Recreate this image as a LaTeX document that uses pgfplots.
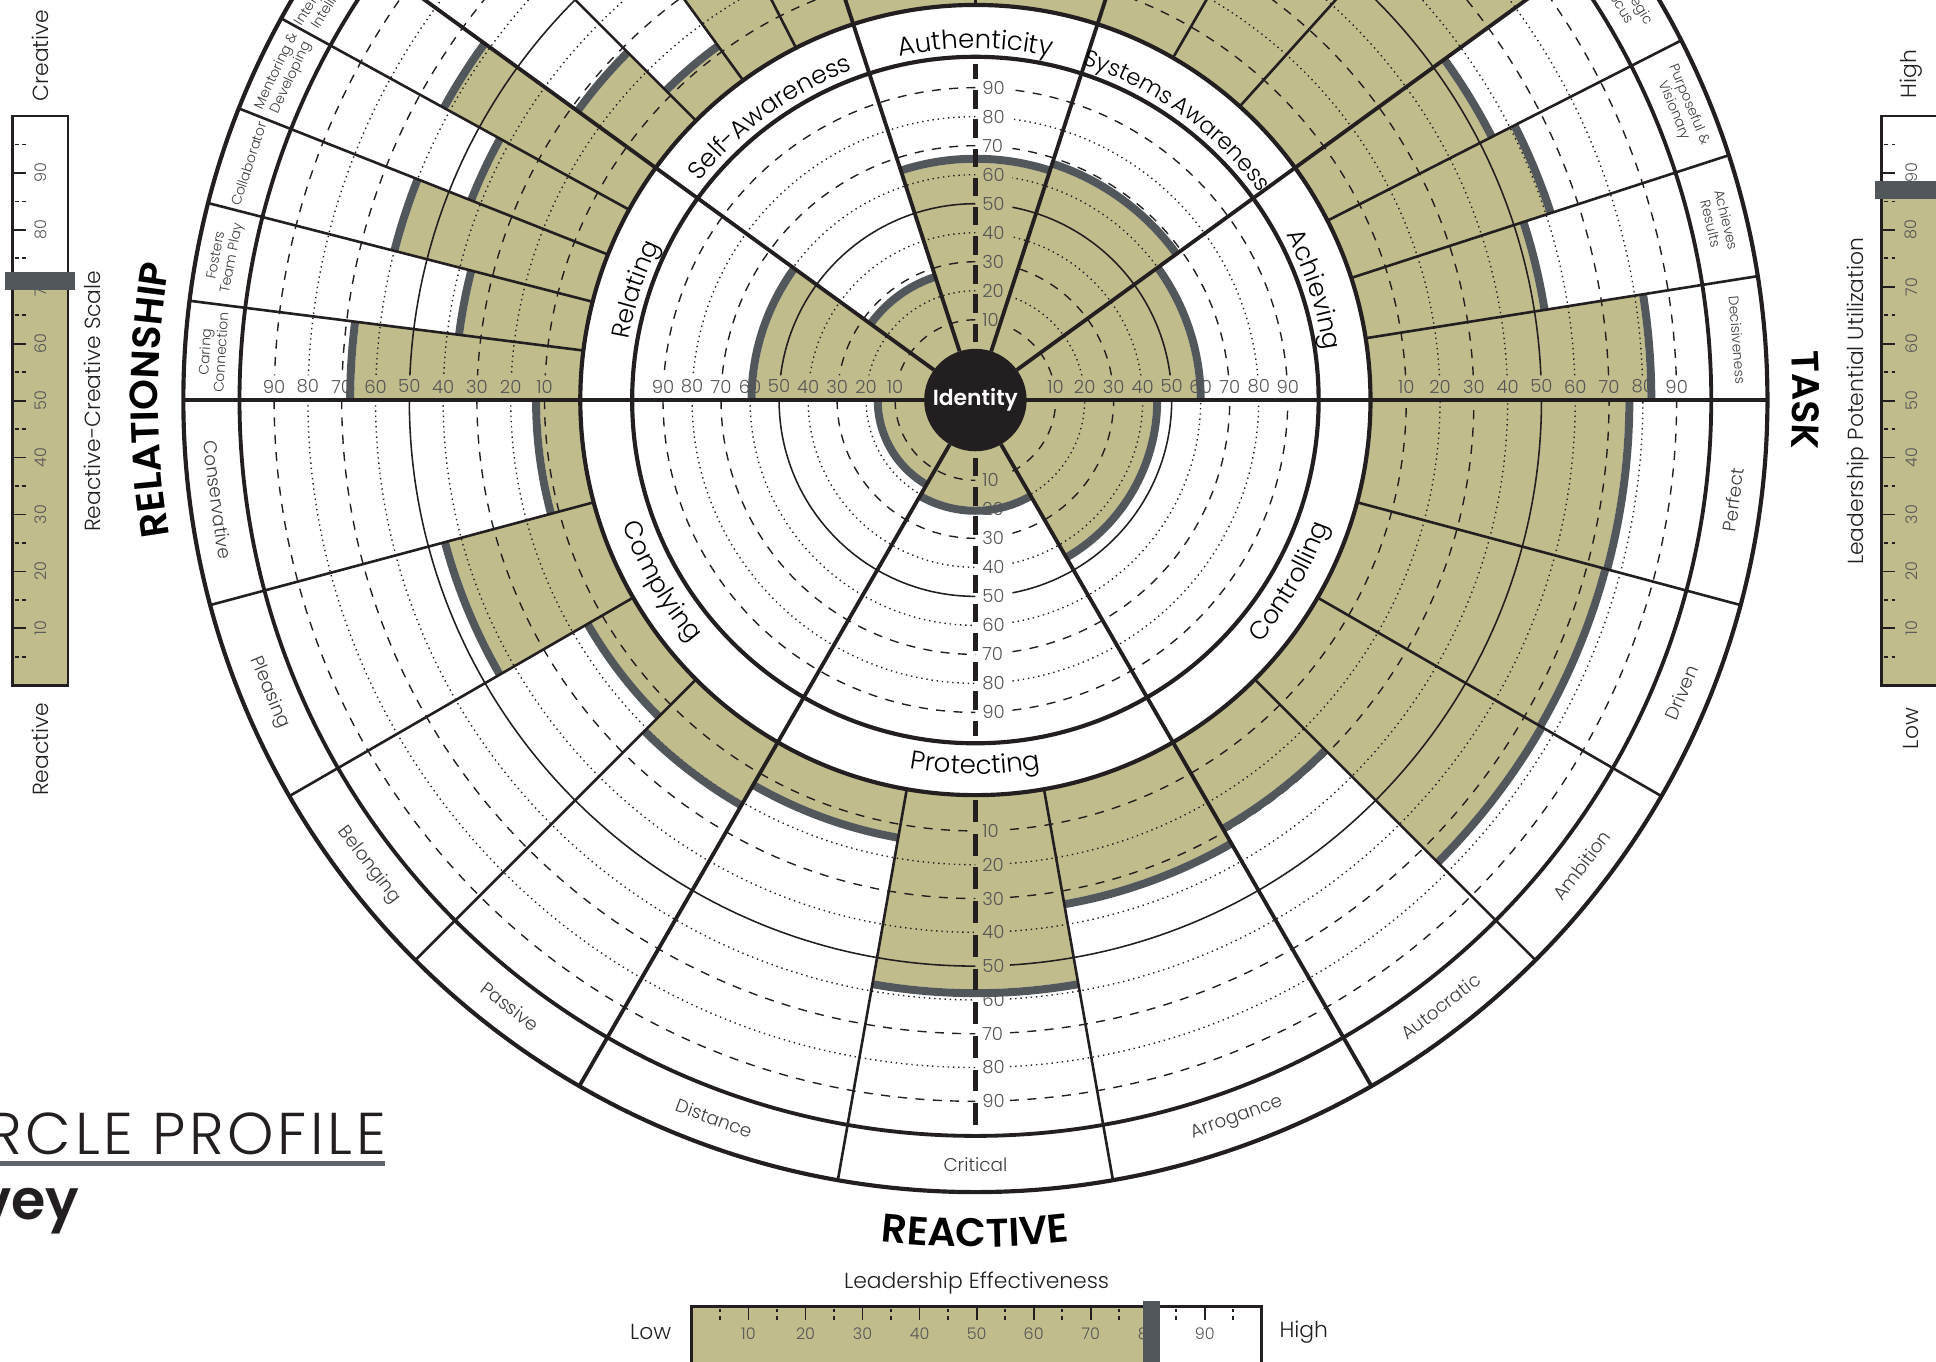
\documentclass[border=0pt]{standalone}
\usepackage{pgfplots}
\pgfplotsset{compat=1.18}
\usepgfplotslibrary{polar}
\usetikzlibrary{decorations.text}
\usepackage{fontspec}
\IfFontExistsTF{Poppins Light}{%
  \IfFontExistsTF{Poppins SemiBold}{%
    \setmainfont{Poppins Light}[BoldFont={Poppins SemiBold}]}{%
    \setmainfont{Poppins Light}[BoldFont={Poppins Bold}]}}{%
  \setmainfont{Poppins}}

\definecolor{olivefill}{RGB}{192,188,140}
\definecolor{grayarc}{RGB}{82,87,91}
\definecolor{lineblk}{RGB}{35,31,32}
\definecolor{txtgray}{RGB}{60,60,60}
\definecolor{numgray}{RGB}{85,85,85}
\definecolor{uline}{RGB}{95,100,106}

% ---- data drawing macros (values 0-100 on the profile scales) ----
\newcommand\osector[3]{%
  \pgfmathsetmacro\Rf{321.6+2.7375*#3-3.2}%
  \pgfmathsetmacro\Rfc{\Rf*0.0125}%
  \pgfmathsetmacro\dRc{(\Rf-320)*0.0125}%
  \pgfmathsetmacro\back{#2+180}%
  \edef\tmp{\noexpand\addplot[fill=olivefill,draw=none,data cs=polar] coordinates {(#1,320) (#1,\Rf)} arc[start angle=#1,end angle=#2,radius=\Rfc cm] -- ++(\back:\dRc cm) arc[start angle=#2,end angle=#1,radius=4cm] -- cycle;}%
  \tmp}
\newcommand\oarc[3]{%
  \pgfmathsetmacro\Rg{321.6+2.7375*#3}%
  \pgfmathsetmacro\Rgc{\Rg*0.0125}%
  \edef\tmp{\noexpand\addplot[draw=grayarc,line width=2.3pt,data cs=polar] coordinates {(#1,\Rg) (#1,\Rg)} arc[start angle=#1,end angle=#2,radius=\Rgc cm];}%
  \tmp}
\newcommand\isector[3]{%
  \pgfmathsetmacro\Rf{41.5+2.35*#3-3.2}%
  \pgfmathsetmacro\Rfc{\Rf*0.0125}%
  \edef\tmp{\noexpand\addplot[fill=olivefill,draw=none,data cs=polar] coordinates {(0,0) (#1,\Rf)} arc[start angle=#1,end angle=#2,radius=\Rfc cm] -- cycle;}%
  \tmp}
\newcommand\iarc[3]{%
  \pgfmathsetmacro\Rg{41.5+2.35*#3}%
  \pgfmathsetmacro\Rgc{\Rg*0.0125}%
  \edef\tmp{\noexpand\addplot[draw=grayarc,line width=2.3pt,data cs=polar] coordinates {(#1,\Rg) (#1,\Rg)} arc[start angle=#1,end angle=#2,radius=\Rgc cm];}%
  \tmp}
\newcommand\vbarfill[3]{%
  \pgfmathsetmacro\yv{-231+4.61*#3}%
  \edef\tmp{\noexpand\addplot[fill=olivefill,draw=none] coordinates {(#1,-231) (#2,-231) (#2,\yv) (#1,\yv)} -- cycle;}\tmp}
\newcommand\vbarmark[3]{%
  \pgfmathsetmacro\ya{-231+4.61*#3-7.5}\pgfmathsetmacro\yb{-231+4.61*#3+7.5}%
  \edef\tmp{\noexpand\addplot[fill=grayarc,draw=none] coordinates {(#1,\ya) (#2,\ya) (#2,\yb) (#1,\yb)} -- cycle;}\tmp}
\newcommand\hbarfill[1]{%
  \pgfmathsetmacro\xv{-230+4.62*#1}%
  \edef\tmp{\noexpand\addplot[fill=olivefill,draw=none] coordinates {(-230,-734) (\xv,-734) (\xv,-820) (-230,-820)} -- cycle;}\tmp}
\newcommand\hbarmark[1]{%
  \pgfmathsetmacro\xa{-230+4.62*#1-7}\pgfmathsetmacro\xb{-230+4.62*#1+7}%
  \edef\tmp{\noexpand\addplot[fill=grayarc,draw=none] coordinates {(\xa,-730) (\xb,-730) (\xb,-820) (\xa,-820)} -- cycle;}\tmp}

% ---- grid macros ----
\newcommand\outercircs[2]{%
  \foreach \kk in {#2}{%
    \pgfmathsetmacro\rr{321.6+27.375*\kk}%
    \pgfmathsetmacro\ga{asin(20/\rr)}%
    \pgfmathsetmacro\ea{180-\ga}%
    \pgfmathsetmacro\gc{-90+asin(28/\rr)}%
    \draw[#1] (\ga:\rr) arc[start angle=\ga,end angle=\ea,radius=\rr];
    \draw[#1] (180:\rr) arc[start angle=180,end angle=270,radius=\rr];
    \draw[#1] (\gc:\rr) arc[start angle=\gc,end angle=0,radius=\rr];
  }}
\newcommand\innercircs[2]{%
  \foreach \kk in {#2}{%
    \pgfmathsetmacro\rr{41.5+23.5*\kk}%
    \pgfmathsetmacro\ga{asin(20/\rr)}%
    \pgfmathsetmacro\gb{90-asin(30/\rr)}%
    \pgfmathsetmacro\ea{180-\ga}%
    \pgfmathsetmacro\gc{-90+asin(30/\rr)}%
    \draw[#1] (\ga:\rr) arc[start angle=\ga,end angle=\gb,radius=\rr];
    \draw[#1] (90:\rr) arc[start angle=90,end angle=\ea,radius=\rr];
    \draw[#1] (180:\rr) arc[start angle=180,end angle=270,radius=\rr];
    \draw[#1] (\gc:\rr) arc[start angle=\gc,end angle=0,radius=\rr];
  }}
% #1 mid angle, #2 font size, #3 text
\newcommand\ringtop[3]{%
  \pgfmathsetmacro\sa{#1+22}\pgfmathsetmacro\se{#1-22}%
  \path[decorate,decoration={text along path,text align=center,text={|\fontsize{#2}{9}\selectfont|#3}}] (\sa:285) arc[start angle=\sa,end angle=\se,radius=285];}
\newcommand\ringbot[3]{%
  \pgfmathsetmacro\sa{#1-22}\pgfmathsetmacro\se{#1+22}%
  \path[decorate,decoration={text along path,text align=center,text={|\fontsize{#2}{9}\selectfont|#3}}] (\sa:303) arc[start angle=\sa,end angle=\se,radius=303];}

\tikzset{
  dashgrid/.style={lineblk,line width=0.4pt,dash pattern=on 2.6pt off 2.4pt},
  dotgrid/.style={lineblk,line width=0.4pt,dash pattern=on 0.4pt off 1.1pt},
  solidgrid/.style={lineblk,line width=0.45pt},
  mainline/.style={lineblk,line width=1.1pt},
  subline/.style={lineblk,line width=0.75pt},
  numlab/.style={font=\fontsize{5.2}{6}\selectfont,text=numgray,inner sep=0pt},
  barnum/.style={font=\fontsize{4.6}{5}\selectfont,text=numgray,inner sep=0pt},
  olab/.style={font=\fontsize{4}{4.6}\selectfont,align=center,text=txtgray,inner sep=0pt},
  olabb/.style={font=\fontsize{5.3}{6}\selectfont,text=txtgray,inner sep=0pt},
  side/.style={font=\fontsize{6.3}{7}\selectfont,text=lineblk,inner sep=0pt},
}

\begin{document}
\begin{tikzpicture}[x=0.0125cm,y=0.0125cm,line cap=butt]
% ================= data layer 1: fills =================
\begin{axis}[hide axis,anchor=south west,at={(-790,-779)},x=0.0125cm,y=0.0125cm,
  xmin=-790,xmax=778,ymin=-779,ymax=324,clip=false]
% outer competencies: start angle, end angle, score
\osector{172.8}{180}{67.5}   % Caring Connection
\osector{165.6}{172.8}{36.5} % Fosters Team Play
\osector{158.4}{165.6}{60}   % Collaborator
\osector{151.2}{158.4}{43}   % Mentoring & Developing
\osector{144}{151.2}{62}     % Interpersonal Intelligence
\osector{135}{144}{28}       % Selfless Leader
\osector{126}{135}{12}       % Balance
\osector{117}{126}{70}       % Composure
\osector{108}{117}{65}       % Personal Learner
\osector{90}{108}{60}        % Integrity
\osector{72}{90}{70}         % Courageous Authenticity
\osector{60}{72}{72}         % Community Concern
\osector{48}{60}{75}         % Sustainable Productivity
\osector{36}{48}{86}         % Systems Thinker
\osector{27}{36}{54}         % Strategic Focus
\osector{18}{27}{61.5}       % Purposeful & Visionary
\osector{9}{18}{53}          % Achieves Results
\osector{0}{9}{82.5}         % Decisiveness
\osector{-180}{-165}{12.5}   % Conservative
\osector{-165}{-150}{45}     % Pleasing
\osector{-150}{-135}{15}     % Belonging
\osector{-135}{-120}{21}     % Passive
\osector{-120}{-100}{14}     % Distance
\osector{-100}{-80}{58}      % Critical
\osector{-80}{-60}{34}       % Arrogance
\osector{-60}{-45}{29}       % Autocratic
\osector{-45}{-30}{76}       % Ambition
\osector{-30}{-15}{75.5}     % Driven
\osector{-15}{0}{76}         % Perfect
% inner dimensions
\isector{144}{180}{59.5}   % Relating
\isector{108}{144}{27}     % Self-Awareness
\isector{72}{108}{65.5}    % Authenticity
\isector{36}{72}{68}       % Systems Awareness
\isector{0}{36}{60}        % Achieving
\isector{-60}{0}{45}       % Controlling
\isector{-120}{-60}{20.5}  % Protecting
\isector{-180}{-120}{16}   % Complying
% summary bars
\vbarfill{-780}{-735}{71}  % Reactive-Creative Scale
\vbarfill{734}{810}{87}    % Leadership Potential Utilization
\hbarfill{80.7}            % Leadership Effectiveness
\end{axis}

% ================= grid =================
\outercircs{dashgrid}{1,3,7,9}
\outercircs{dotgrid}{2,4,6,8}
\outercircs{solidgrid}{5}
\innercircs{dashgrid}{1,3,7,9}
\innercircs{dotgrid}{2,4,6,8}
\innercircs{solidgrid}{5}

% bar outlines, ticks, numbers
\draw[lineblk,line width=0.8pt] (-780,-231) rectangle (-735,230);
\draw[lineblk,line width=0.8pt] (734,-231) rectangle (810,230);
\draw[lineblk,line width=0.8pt] (-230,-734) rectangle (232,-830);
\foreach \v in {10,20,...,90}{%
  \pgfmathsetmacro\yy{-231+4.61*\v}%
  \pgfmathsetmacro\xx{-230+4.62*\v}%
  \draw[lineblk,line width=0.5pt] (-780,\yy) -- (-769,\yy);
  \draw[lineblk,line width=0.5pt] (734,\yy) -- (745,\yy);
  \draw[lineblk,line width=0.5pt] (\xx,-734) -- (\xx,-745);
  \node[barnum,rotate=90] at (-757,\yy) {\v};
  \node[barnum,rotate=90] at (758,\yy) {\v};
  \node[barnum] at (\xx,-756) {\v};
}
\foreach \v in {5,15,...,95}{%
  \pgfmathsetmacro\yy{-231+4.61*\v}%
  \pgfmathsetmacro\xx{-230+4.62*\v}%
  \draw[lineblk,line width=0.5pt] (-778,\yy) -- (-775,\yy) (-772,\yy) -- (-769,\yy);
  \draw[lineblk,line width=0.5pt] (736,\yy) -- (739,\yy) (742,\yy) -- (745,\yy);
  \draw[lineblk,line width=0.5pt] (\xx,-736) -- (\xx,-739) (\xx,-742) -- (\xx,-745);
}

% ================= data layer 2: score arcs and markers =================
\begin{axis}[hide axis,anchor=south west,at={(-790,-779)},x=0.0125cm,y=0.0125cm,
  xmin=-790,xmax=778,ymin=-779,ymax=324,clip=false]
\oarc{172.8}{180}{67.5}
\oarc{165.6}{172.8}{36.5}
\oarc{158.4}{165.6}{60}
\oarc{151.2}{158.4}{43}
\oarc{144}{151.2}{62}
\oarc{135}{144}{28}
\oarc{126}{135}{12}
\oarc{117}{126}{70}
\oarc{108}{117}{65}
\oarc{90}{108}{60}
\oarc{72}{90}{70}
\oarc{60}{72}{72}
\oarc{48}{60}{75}
\oarc{36}{48}{86}
\oarc{27}{36}{54}
\oarc{18}{27}{61.5}
\oarc{9}{18}{53}
\oarc{0}{9}{82.5}
\oarc{-180}{-165}{12.5}
\oarc{-165}{-150}{45}
\oarc{-150}{-135}{15}
\oarc{-135}{-120}{21}
\oarc{-120}{-100}{14}
\oarc{-100}{-80}{58}
\oarc{-80}{-60}{34}
\oarc{-60}{-45}{29}
\oarc{-45}{-30}{76}
\oarc{-30}{-15}{75.5}
\oarc{-15}{0}{76}
\iarc{144}{180}{59.5}
\iarc{108}{144}{27}
\iarc{72}{108}{65.5}
\iarc{36}{72}{68}
\iarc{0}{36}{60}
\iarc{-60}{0}{45}
\iarc{-120}{-60}{20.5}
\iarc{-180}{-120}{16}
\vbarmark{-786}{-729}{71}
\vbarmark{729}{810}{87}
\hbarmark{80.7}
\end{axis}

% ================= structure on top =================
\foreach \a in {172.8,165.6,158.4,151.2,135,126,117,90,60,48,27,18,9,-165,-150,-135,-100,-80,-45,-30,-15}
  \draw[subline] (\a:320) -- (\a:641.5);
\foreach \a in {36,72,108,144,-60,-120}
  \draw[mainline] (\a:41.5) -- (\a:641.5);
\draw[lineblk,line width=1.3pt] (-641.5,0) -- (641.5,0);
\draw[lineblk,line width=1.2pt] (0,0) circle[radius=278];
\draw[lineblk,line width=1.2pt] (0,0) circle[radius=320];
\draw[lineblk,line width=1.1pt] (0,0) circle[radius=596];
\draw[lineblk,line width=1.2pt] (0,0) circle[radius=641.5];

% vertical dashed scales
\draw[lineblk,line width=1.4pt,dash pattern=on 5.3pt off 3.1pt] (0,47) -- (0,272);
\draw[lineblk,line width=1.4pt,dash pattern=on 5.3pt off 3.1pt] (0,-47) -- (0,-272);
\draw[lineblk,line width=1.4pt,dash pattern=on 6.3pt off 3.4pt] (0,-324) -- (0,-594);

% scale numbers
\foreach \v in {10,20,...,90}{%
  \pgfmathsetmacro\ri{41.5+2.35*\v}%
  \pgfmathsetmacro\ro{321.6+2.7375*\v}%
  \node[numlab] at (\ri,11) {\v};
  \node[numlab] at (-\ri,11) {\v};
  \node[numlab] at (\ro,11) {\v};
  \node[numlab] at (-\ro,11) {\v};
  \node[numlab,anchor=west] at (5,\ri) {\v};
  \node[numlab,anchor=west] at (5,-\ri) {\v};
  \node[numlab,anchor=west] at (5,-\ro) {\v};
}

% ring labels
\ringtop{162}{7.2}{Relating}
\ringtop{126}{7.2}{Self-Awareness}
\ringtop{90}{7.5}{Authenticity}
\ringtop{64.6}{6.6}{Systems}
\ringtop{46.2}{6.6}{Awareness}
\ringtop{18}{7.3}{Achieving}
\ringbot{-30}{7.3}{Controlling}
\ringbot{-90}{7.5}{Protecting}
\ringbot{-150}{7.3}{Complying}

% outer labels
\node[olab,rotate=86.4] at (176.4:619) {Caring\\Connection};
\node[olab,rotate=79.2] at (169.2:619) {Fosters\\Team Play};
\node[olab,rotate=72] at (162:619) {Collaborator};
\node[olab,rotate=64.8] at (154.8:619) {Mentoring \&\\Developing};
\node[olab,rotate=57.6] at (147.6:619) {Interpersonal\\Intelligence};
\node[olab,rotate=-58.5] at (31.5:619) {Strategic\\Focus};
\node[olab,rotate=-67.5] at (22.5:619) {Purposeful \&\\Visionary};
\node[olab,rotate=-76.5] at (13.5:619) {Achieves\\Results};
\node[olab,rotate=-85.5] at (4.5:619) {Decisiveness};
\node[olabb,rotate=-82.5] at (-172.5:619) {Conservative};
\node[olabb,rotate=-67.5] at (-157.5:619) {Pleasing};
\node[olabb,rotate=-52.5] at (-142.5:619) {Belonging};
\node[olabb,rotate=-37.5] at (-127.5:619) {Passive};
\node[olabb,rotate=-20] at (-110:619) {Distance};
\node[olabb] at (-90:619) {Critical};
\node[olabb,rotate=20] at (-70:619) {Arrogance};
\node[olabb,rotate=37.5] at (-52.5:619) {Autocratic};
\node[olabb,rotate=52.5] at (-37.5:619) {Ambition};
\node[olabb,rotate=67.5] at (-22.5:619) {Driven};
\node[olabb,rotate=82.5] at (-7.5:619) {Perfect};

% centre
\fill[lineblk] (0,0) circle[radius=41.5];
\node[text=white,font=\bfseries\fontsize{6.3}{7}\selectfont] at (0,0) {Identity};

% big headings
\path[decorate,decoration={text along path,text align=center,text={|\bfseries\fontsize{11.3}{13}\selectfont|RELATIONSHIP}}] (198:662) arc[start angle=198,end angle=162,radius=662];
\path[decorate,decoration={text along path,text align=center,text={|\bfseries\fontsize{11}{13}\selectfont|TASK}}] (14:662) arc[start angle=14,end angle=-14,radius=662];
\path[decorate,decoration={text along path,text align=center,text={|\bfseries\fontsize{11.5}{13}\selectfont|REACTIVE}}] (-104:686) arc[start angle=-104,end angle=-76,radius=686];

% side bar texts
\node[side,rotate=90] at (-757,279) {Creative};
\node[side,rotate=90] at (-757,-283) {Reactive};
\node[side,rotate=90] at (-715,-1) {Reactive-Creative Scale};
\node[side,rotate=90] at (758,264) {High};
\node[side,rotate=90] at (758,-266) {Low};
\node[side,rotate=90] at (715,-1) {Leadership Potential Utilization};
\node[side] at (1,-715) {Leadership Effectiveness};
\node[side] at (-263,-755) {Low};
\node[side] at (266,-755) {High};

% title
\node[anchor=base east,inner sep=0pt,font=\addfontfeatures{LetterSpace=6}\fontsize{17}{19}\selectfont,text=lineblk] at (-477,-611) {THE LEADERSHIP CIRCLE PROFILE};
\fill[uline] (-800,-616) rectangle (-478,-620);
\node[anchor=base east,inner sep=0pt,font=\bfseries\fontsize{16}{18}\selectfont,text=lineblk] at (-725,-664) {Survey};

\pgfresetboundingbox
\useasboundingbox (-790,-779) rectangle (778,324);
\end{tikzpicture}
\end{document}
